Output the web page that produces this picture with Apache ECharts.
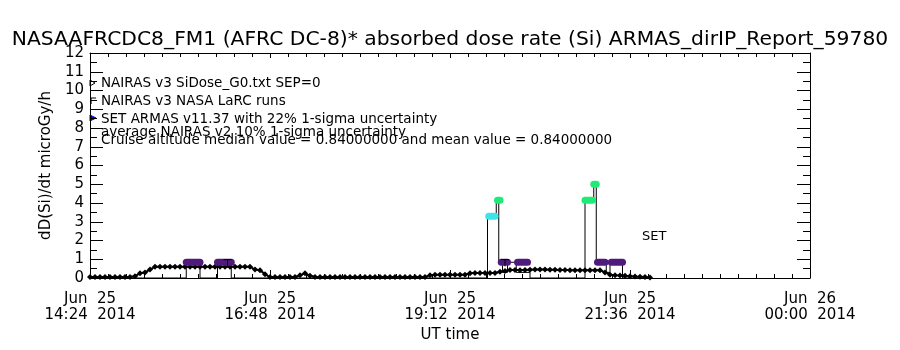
<!DOCTYPE html>
<html>
<head>
<meta charset="utf-8">
<script src="https://cdn.jsdelivr.net/npm/echarts@6/dist/echarts.min.js"></script>
<style>
html,body{margin:0;padding:0;background:#fff;}
#chart{width:900px;height:350px;}
</style>
</head>
<body>
<div id="chart"></div>
<script>
// ---- Data ----
const titleText = "NASAAFRCDC8_FM1 (AFRC DC-8)* absorbed dose rate (Si) ARMAS_dirIP_Report_59780";
const xTickLabels = ["Jun  25\n14:24  2014", "Jun  25\n16:48  2014", "Jun  25\n19:12  2014", "Jun  25\n21:36  2014", "Jun  26\n00:00  2014"];
const xStart = "14:24";   // axis start (Jun 25)
const xEndMinutes = 576;  // axis spans to Jun 26 00:00
const yTicks = [0,1,2,3,4,5,6,7,8,9,10,11,12];

// NAIRAS model curve (black line with diamonds)
const nairasTimes = [
 "14:24","14:28","14:32","14:36","14:40","14:44","14:48","14:52","14:56",
 "15:00","15:04","15:08","15:12","15:16","15:20","15:24","15:28","15:32","15:36","15:40","15:44","15:48","15:52","15:56",
 "16:00","16:04","16:08","16:12","16:16","16:20","16:24","16:28","16:32","16:36","16:40","16:44","16:48","16:52","16:56",
 "17:00","17:04","17:08","17:12","17:16","17:20","17:24","17:28","17:32","17:36","17:40","17:44","17:48","17:52","17:56",
 "18:00","18:04","18:08","18:12","18:16","18:20","18:24","18:28","18:32","18:36","18:40","18:44","18:48","18:52","18:56",
 "19:00","19:04","19:08","19:12","19:16","19:20","19:24","19:28","19:32","19:36","19:40","19:44","19:48","19:52","19:56",
 "20:00","20:04","20:08","20:12","20:16","20:20","20:24","20:28","20:32","20:36","20:40","20:44","20:48","20:52","20:56",
 "21:00","21:04","21:08","21:12","21:16","21:20","21:24","21:28","21:32","21:36","21:40","21:44","21:48","21:52"
];
const nairasValues = [
 0.05,0.05,0.05,0.05,0.05,0.05,0.05,0.05,0.05,
 0.10,0.25,0.30,0.45,0.60,0.60,0.60,0.60,0.60,0.60,0.60,0.60,0.60,0.60,0.60,
 0.60,0.60,0.60,0.60,0.60,0.60,0.60,0.60,0.60,0.45,0.42,0.20,0.05,0.05,0.05,
 0.05,0.05,0.05,0.15,0.25,0.12,0.05,0.05,0.05,0.05,0.05,0.05,0.05,0.05,0.05,
 0.05,0.05,0.05,0.05,0.05,0.05,0.05,0.05,0.05,0.05,0.05,0.05,0.05,0.05,0.15,
 0.18,0.18,0.18,0.18,0.18,0.18,0.18,0.25,0.27,0.27,0.27,0.27,0.27,0.33,0.37,
 0.43,0.43,0.42,0.43,0.44,0.45,0.45,0.45,0.44,0.44,0.43,0.43,0.42,0.42,0.42,
 0.42,0.42,0.42,0.42,0.30,0.18,0.15,0.13,0.12,0.10,0.08,0.07,0.05,0.03
];

// SET ARMAS connecting line (thin black)
const setTimes = [
 "14:24","15:41","15:41","15:52","15:52","16:06","16:06","16:17","16:17",
 "19:42","19:42","19:49","19:49","19:51","19:51","19:54","19:54","19:58","19:58","20:05","20:05","20:16","20:16",
 "21:00","21:00","21:07","21:07","21:09","21:09","21:17","21:17","21:20","21:20","21:30","21:30","21:52"
];
const setValues = [
 0,0,0.84,0.84,0,0,0.84,0.84,0,
 0,3.3,3.3,4.15,4.15,0.84,0.84,0.3,0.3,0.84,0.84,0.3,0.3,0,
 0,4.15,4.15,5.0,5.0,0.84,0.84,0.3,0.3,0.84,0.84,0,0
];

// SET ARMAS measurement intervals (coloured markers)
const segStart = ["15:41","16:06","19:43","19:50","19:53","20:06","21:00","21:07","21:10","21:21"];
const segEnd   = ["15:52","16:17","19:48","19:52","19:58","20:14","21:06","21:09","21:16","21:30"];
const segValue = [0.84,0.84,3.3,4.15,0.84,0.84,4.15,5.0,0.84,0.84];
const segColor = ["#501a7c","#501a7c","#3fe3ea","#1eea78","#501a7c","#501a7c","#1eea78","#1eea78","#501a7c","#501a7c"];

// 1-sigma error bars
const errTimes = ["16:14","19:56"];
const errLow   = [0.66,0.62];
const errHigh  = [0.98,0.98];

const legendLines = [
 "NAIRAS v3 SiDose_G0.txt SEP=0",
 "NAIRAS v3 NASA LaRC runs",
 "SET ARMAS v11.37 with 22% 1-sigma uncertainty",
 "average NAIRAS v2 10% 1-sigma uncertainty",
 "Cruise altitude median value = 0.84000000 and mean value = 0.84000000"
];

// ---- helpers ----
function toMin(s){
  const p = s.split(':').map(Number);
  const q = xStart.split(':').map(Number);
  return (p[0]*60+p[1]) - (q[0]*60+q[1]);
}
const FONT = "DejaVu Sans";

const series = [];
series.push({
  type:'line', name:'nairas', animation:false,
  data: nairasTimes.map((t,i)=>[toMin(t), nairasValues[i]]),
  symbol:'diamond', symbolSize:6, showSymbol:true,
  lineStyle:{color:'#000', width:2}, itemStyle:{color:'#000'}, z:3
});
series.push({
  type:'line', name:'set', animation:false,
  data: setTimes.map((t,i)=>[toMin(t), setValues[i]]),
  showSymbol:false, symbol:'none',
  lineStyle:{color:'#000', width:1}, z:2
});
segStart.forEach((s,i)=>{
  series.push({
    type:'line', animation:false, symbol:'none', showSymbol:false,
    data:[[toMin(s), segValue[i]],[toMin(segEnd[i]), segValue[i]]],
    lineStyle:{color:segColor[i], width:7, cap:'round'}, z:4
  });
});
series.push({
  type:'custom', animation:false, z:5,
  data: errTimes.map((t,i)=>[toMin(t), errLow[i], errHigh[i]]),
  renderItem:function(params, api){
    const lo = api.coord([api.value(0), api.value(1)]);
    const hi = api.coord([api.value(0), api.value(2)]);
    return {type:'group', children:[
      {type:'line', shape:{x1:lo[0],y1:lo[1],x2:hi[0],y2:hi[1]}, style:{stroke:'#000',lineWidth:1}},
      {type:'line', shape:{x1:hi[0]-4,y1:hi[1],x2:hi[0]+4,y2:hi[1]}, style:{stroke:'#000',lineWidth:1}}
    ]};
  }
});

const legendY = [83, 101, 119, 132, 140];
const graphics = legendLines.map((t,i)=>({
  type:'text', x:101, y:legendY[i], silent:true,
  style:{text:t, font:'13.5px "'+FONT+'"', fill:'#000', textVerticalAlign:'middle', verticalAlign:'middle'}
}));
graphics.push({type:'polygon', shape:{points:[[90,80],[95,83],[90,86]]}, style:{fill:'none', stroke:'#000', lineWidth:1}});
graphics.push({type:'polyline', shape:{points:[[91,104],[91,98],[96,98]]}, style:{fill:'none', stroke:'#000', lineWidth:1.2}});
graphics.push({type:'polygon', shape:{points:[[90,115],[96,118],[90,121]]}, style:{fill:'#0000ff', stroke:'#0000ff'}});
graphics.push({type:'text', x:642, y:237, style:{text:'SET', font:'13px "'+FONT+'"', fill:'#000', textVerticalAlign:'middle', verticalAlign:'middle'}});

const chart = echarts.init(document.getElementById('chart'), null, {renderer:'canvas'});
const tickFont = {fontFamily:FONT, fontSize:15, color:'#000'};
chart.setOption({
  animation:false,
  backgroundColor:'#fff',
  title:{text:titleText, left:'center', top:25,
    textStyle:{fontFamily:FONT, fontSize:20.3, fontWeight:'normal', color:'#000'}},
  grid:{left:90, right:90, top:53, bottom:72},
  xAxis:[{
    type:'value', min:0, max:xEndMinutes, interval:144, position:'bottom',
    axisLine:{onZero:false, lineStyle:{color:'#000', width:1}},
    axisTick:{inside:true, length:8, lineStyle:{color:'#000'}},
    minorTick:{show:true, splitNumber:10, length:4, lineStyle:{color:'#000'}},
    splitLine:{show:false},
    axisLabel:{...tickFont, lineHeight:16, margin:13,
      formatter:(v)=>xTickLabels[Math.round(v/144)]},
    name:'UT time', nameLocation:'middle', nameGap:49,
    nameTextStyle:{fontFamily:FONT, fontSize:15, color:'#000'}
  },{
    type:'value', min:0, max:xEndMinutes, interval:144, position:'top',
    axisLine:{onZero:false, lineStyle:{color:'#000', width:1}},
    axisTick:{inside:true, length:5, lineStyle:{color:'#000'}},
    minorTick:{show:true, splitNumber:10, length:4, lineStyle:{color:'#000'}},
    splitLine:{show:false}, axisLabel:{show:false}
  }],
  yAxis:[{
    type:'value', min:yTicks[0], max:yTicks[yTicks.length-1], interval:1, position:'left',
    axisLine:{show:true, onZero:false, lineStyle:{color:'#000', width:1}},
    axisTick:{show:true, inside:true, length:13, lineStyle:{color:'#000'}},
    minorTick:{show:true, splitNumber:2, length:7, lineStyle:{color:'#000'}},
    splitLine:{show:false},
    axisLabel:{...tickFont, margin:6},
    name:'dD(Si)/dt microGy/h', nameLocation:'middle', nameGap:34,
    nameTextStyle:{fontFamily:FONT, fontSize:15, color:'#000'}
  },{
    type:'value', min:yTicks[0], max:yTicks[yTicks.length-1], interval:1, position:'right',
    axisLine:{show:true, onZero:false, lineStyle:{color:'#000', width:1}},
    axisTick:{show:true, inside:true, length:13, lineStyle:{color:'#000'}},
    minorTick:{show:true, splitNumber:2, length:7, lineStyle:{color:'#000'}},
    splitLine:{show:false}, axisLabel:{show:false}
  }],
  graphic:graphics,
  series:series
});
</script>
</body>
</html>
